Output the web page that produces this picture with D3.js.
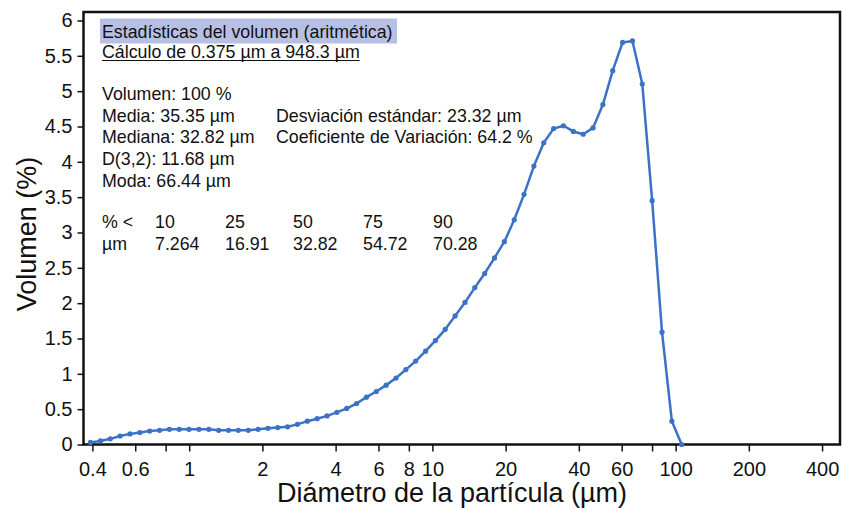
<!DOCTYPE html>
<html>
<head>
<meta charset="utf-8">
<script src="https://cdn.jsdelivr.net/npm/d3@7"></script>
<style>
  body { margin: 0; background: #fff; }
  svg text { font-family: "Liberation Sans", Arial, sans-serif; fill: #111; }
</style>
</head>
<body>
<div id="chart"></div>
<script>
// channel centres (um) and volume %
var sizes = [0.393, 0.432, 0.474, 0.520, 0.571, 0.627, 0.688, 0.755, 0.829, 0.910,
  0.999, 1.097, 1.204, 1.322, 1.451, 1.593, 1.749, 1.920, 2.107, 2.313,
  2.539, 2.787, 3.060, 3.359, 3.687, 4.048, 4.444, 4.878, 5.355, 5.879,
  6.454, 7.085, 7.776, 8.536, 9.371, 10.29, 11.29, 12.40, 13.61, 14.94,
  16.40, 18.00, 19.76, 21.70, 23.81, 26.14, 28.70, 31.50, 34.58, 37.97,
  41.68, 45.75, 50.23, 55.13, 60.52, 66.44, 72.94, 80.07, 87.90, 96.49, 105.9];
var volume = [0.03, 0.05, 0.08, 0.12, 0.15, 0.17, 0.19, 0.20, 0.215, 0.215,
  0.215, 0.215, 0.215, 0.20, 0.20, 0.20, 0.20, 0.215, 0.23, 0.24,
  0.25, 0.285, 0.33, 0.365, 0.405, 0.455, 0.51, 0.58, 0.67, 0.75,
  0.84, 0.94, 1.06, 1.18, 1.32, 1.47, 1.63, 1.82, 2.01, 2.22,
  2.42, 2.64, 2.87, 3.18, 3.54, 3.94, 4.27, 4.47, 4.51, 4.43,
  4.39, 4.48, 4.81, 5.29, 5.69, 5.71, 5.10, 3.45, 1.59, 0.33, 0.0];

var xTicks = [0.4, 0.6, 0.8, 1, 2, 4, 6, 8, 10, 20, 40, 60, 80, 100, 200, 400];
var xTickLabels = ['0.4', '0.6', '', '1', '2', '4', '6', '8', '10', '20', '40', '60', '', '100', '200', '400'];
var yTicks = [0, 0.5, 1, 1.5, 2, 2.5, 3, 3.5, 4, 4.5, 5, 5.5, 6];
var yTickLabels = ['0', '0.5', '1', '1.5', '2', '2.5', '3', '3.5', '4', '4.5', '5', '5.5', '6'];

var statsTitle = 'Estadísticas del volumen (aritmética)';
var statsRange = 'Cálculo de 0.375 µm a 948.3 µm';
var statsLeft = ['Volumen: 100 %', 'Media: 35.35 µm', 'Mediana: 32.82 µm', 'D(3,2): 11.68 µm', 'Moda: 66.44 µm'];
var statsRight = ['', 'Desviación estándar: 23.32 µm', 'Coeficiente de Variación: 64.2 %'];
var pctRow = ['% <', '10', '25', '50', '75', '90'];
var umRow = ['µm', '7.264', '16.91', '32.82', '54.72', '70.28'];

var W = 842, H = 508;
// plot box edges in px
var pL = 83.5, pR = 840, pT = 12, pB = 444.5;

var svg = d3.select('#chart').append('svg')
  .attr('width', W).attr('height', H);

var x = d3.scaleLog().domain([0.3677, 474]).range([pL, pR]);
var y = d3.scaleLinear().domain([0, 6.12]).range([pB, pT]);

// axes
var xAxis = d3.axisBottom(x).tickValues(xTicks).tickSize(7).tickPadding(9)
  .tickFormat(function (d, i) { return xTickLabels[i]; });
var gx = svg.append('g').attr('transform', 'translate(0,' + pB + ')').call(xAxis);
gx.select('.domain').remove();
gx.selectAll('.tick line').attr('stroke', '#111').attr('stroke-width', 1.5);
gx.selectAll('.tick text').attr('font-size', 20).attr('dy', '0.75em');

var yAxis = d3.axisLeft(y).tickValues(yTicks).tickSize(6).tickPadding(5)
  .tickFormat(function (d, i) { return yTickLabels[i]; });
var gy = svg.append('g').attr('transform', 'translate(' + pL + ',0)').call(yAxis);
gy.select('.domain').remove();
gy.selectAll('.tick line').attr('stroke', '#111').attr('stroke-width', 1.5);
gy.selectAll('.tick text').attr('font-size', 20);

// frame
svg.append('rect')
  .attr('x', pL).attr('y', pT)
  .attr('width', pR - pL).attr('height', pB - pT)
  .attr('fill', 'none').attr('stroke', '#111').attr('stroke-width', 2.5);

// axis titles
svg.append('text')
  .attr('x', 452).attr('y', 502)
  .attr('text-anchor', 'middle').attr('font-size', 27)
  .text('Diámetro de la partícula (µm)');
svg.append('text')
  .attr('transform', 'translate(36,' + 234 + ') rotate(-90)')
  .attr('text-anchor', 'middle').attr('font-size', 27)
  .text('Volumen (%)');

// curve
var pts = sizes.map(function (s, i) { return { s: s, v: volume[i] }; });
var line = d3.line()
  .x(function (d) { return x(d.s); })
  .y(function (d) { return y(d.v); });
svg.append('path').datum(pts)
  .attr('d', line).attr('fill', 'none')
  .attr('stroke', '#3b72c6').attr('stroke-width', 2.5)
  .attr('stroke-linejoin', 'round');
svg.selectAll('circle.pt').data(pts).enter().append('circle')
  .attr('class', 'pt')
  .attr('cx', function (d) { return x(d.s); })
  .attr('cy', function (d) { return y(d.v); })
  .attr('r', 2.6).attr('fill', '#3b72c6');

// statistics block
var fs = 17.8;
svg.append('rect')
  .attr('x', 100).attr('y', 18.5).attr('width', 297).attr('height', 25)
  .attr('fill', '#b7bfe4');
svg.append('text').attr('x', 102).attr('y', 38).attr('font-size', fs).text(statsTitle);
var rng = svg.append('text').attr('x', 102).attr('y', 58).attr('font-size', fs).text(statsRange);
var rw = rng.node().getComputedTextLength();
svg.append('line')
  .attr('x1', 102).attr('x2', 102 + rw).attr('y1', 60.5).attr('y2', 60.5)
  .attr('stroke', '#111').attr('stroke-width', 1.2);

statsLeft.forEach(function (t, i) {
  svg.append('text').attr('x', 102).attr('y', 100 + i * 21.7).attr('font-size', fs).text(t);
});
statsRight.forEach(function (t, i) {
  if (!t) return;
  svg.append('text').attr('x', 276).attr('y', 100 + i * 21.7).attr('font-size', fs).text(t);
});
var colX = [102, 155, 225, 293, 363, 433];
pctRow.forEach(function (t, i) {
  svg.append('text').attr('x', colX[i]).attr('y', 228).attr('font-size', fs).text(t);
});
umRow.forEach(function (t, i) {
  svg.append('text').attr('x', colX[i]).attr('y', 250).attr('font-size', fs).text(t);
});
</script>
</body>
</html>
